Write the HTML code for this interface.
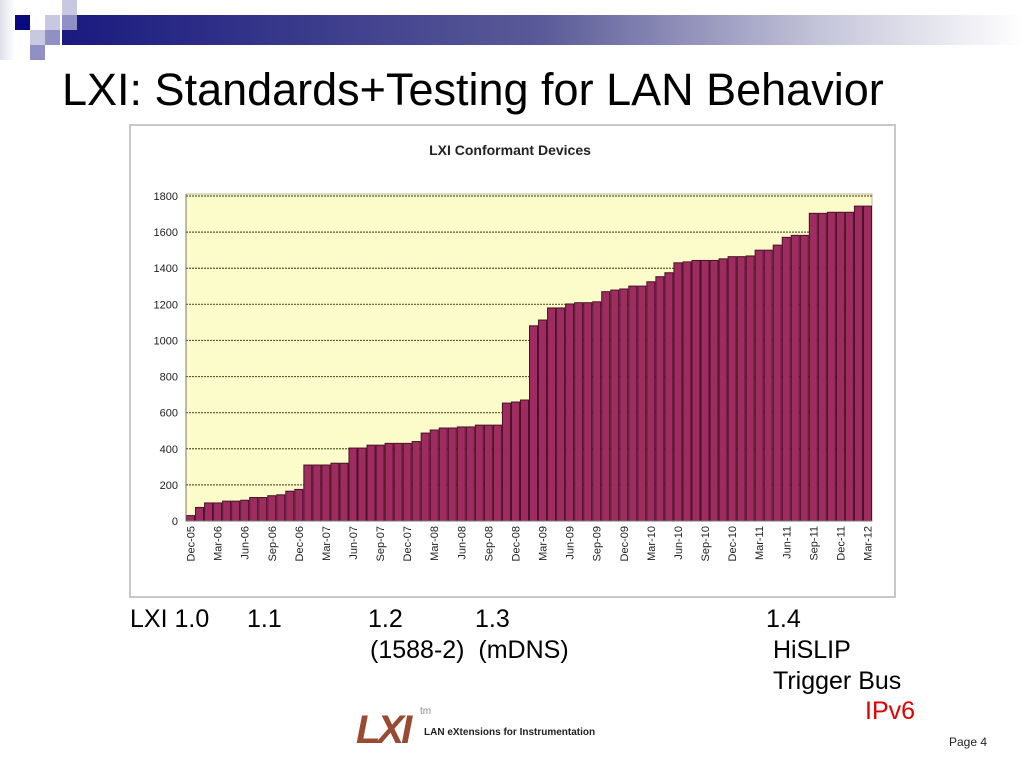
<!DOCTYPE html>
<html><head><meta charset="utf-8"><style>
body{margin:0;width:1024px;height:768px;background:#fff;position:relative;overflow:hidden;font-family:"Liberation Sans",sans-serif}
.sq{position:absolute;width:15px;height:15px}
.t{position:absolute;font-size:25px;color:#000;white-space:nowrap}
</style></head><body>
<div style="position:absolute;left:62px;top:15px;width:962px;height:30px;background:linear-gradient(90deg,#1a1a80,#5a5a98 50%,#c8c8dc 80%,#fff)"></div>
<div style="position:absolute;left:0;top:0;width:15px;height:60px;background:linear-gradient(90deg,#e0e0ec,#fff)"></div>
<div class="sq" style="left:15px;top:15px;background:#0a0a80"></div>
<div class="sq" style="left:45px;top:15px;background:#c8c8e0"></div>
<div class="sq" style="left:62px;top:0;background:#c8c8e0"></div>
<div class="sq" style="left:62px;top:15px;background:#9090c4"></div>
<div class="sq" style="left:30px;top:30px;background:#c8c8e0"></div>
<div class="sq" style="left:45px;top:30px;background:#9090c4"></div>
<div class="sq" style="left:30px;top:45px;background:#9090c4"></div>
<div style="position:absolute;left:62px;top:64px;font-size:45px;color:#000;white-space:nowrap">LXI: Standards+Testing for LAN Behavior</div>

<svg style="position:absolute;left:0;top:0" width="1024" height="768">
<rect x="130" y="125" width="765" height="472" fill="#fff" stroke="#c8c8c8" stroke-width="2"/>
<text x="510" y="155" font-size="14" font-weight="bold" text-anchor="middle" font-family="Liberation Sans" fill="#222">LXI Conformant Devices</text>
<rect x="186" y="194" width="686" height="327" fill="#fcfcca" stroke="#b8b8a0"/>
<g id="grid"></g><g id="bars"></g><g id="yt"></g><g id="xt"></g>
<line x1="186" y1="194" x2="186" y2="521" stroke="#777"/>
<line x1="186" y1="521" x2="872" y2="521" stroke="#777"/>
</svg>

<div class="t" style="left:130px;top:605px">LXI 1.0</div>
<div class="t" style="left:247px;top:605px">1.1</div>
<div class="t" style="left:368px;top:605px">1.2</div>
<div class="t" style="left:475px;top:605px">1.3</div>
<div class="t" style="left:766px;top:605px">1.4</div>
<div class="t" style="left:370px;top:636px">(1588-2)&nbsp; (mDNS)</div>
<div class="t" style="left:773px;top:636px">HiSLIP</div>
<div class="t" style="left:773px;top:667px">Trigger Bus</div>
<div class="t" style="left:865px;top:697px;color:#e00000">IPv6</div>
<div style="position:absolute;left:356px;top:708px;font:italic bold 40px 'Liberation Sans',sans-serif;color:#9a4a30;letter-spacing:-3px">LXI</div>
<div style="position:absolute;left:420px;top:706px;font-size:10px;color:#888">tm</div>
<div style="position:absolute;left:424px;top:727px;font-size:10px;font-weight:bold;color:#222">LAN eXtensions for Instrumentation</div>
<div style="position:absolute;left:949px;top:735px;font-size:12px;color:#222">Page 4</div>

<script>
const values=[30,75,100,100,110,110,115,130,130,140,145,165,175,310,310,310,320,320,404,404,420,420,430,430,430,440,487,504,515,515,521,521,531,531,531,653,659,670,1081,1113,1180,1180,1202,1209,1209,1214,1270,1279,1285,1301,1301,1325,1353,1375,1430,1435,1443,1443,1443,1452,1464,1464,1468,1500,1500,1528,1571,1582,1582,1704,1704,1710,1710,1710,1744,1744];
const months=["Jan","Feb","Mar","Apr","May","Jun","Jul","Aug","Sep","Oct","Nov","Dec"];
const yTicks=[0,200,400,600,800,1000,1200,1400,1600,1800];
const x0=186,x1=872,yBase=521,yTop=196,yMax=1800;
const NS="http://www.w3.org/2000/svg";
const n=values.length,bw=(x1-x0)/n;
const y=v=>yBase-(v/yMax)*(yBase-yTop);
const X=i=>x0+i*bw;
function mk(t,a,p){const e=document.createElementNS(NS,t);for(const k in a)e.setAttribute(k,a[k]);document.getElementById(p).appendChild(e);return e;}
yTicks.forEach(v=>{
 if(v>0){const g=mk("line",{x1:x0,x2:x1,y1:y(v),y2:y(v),stroke:"#5a5a30","stroke-width":1.2,"stroke-dasharray":"2,1"},"grid");
 
 }
 const t=mk("text",{x:x0-8,y:y(v)+4,"font-size":11,"text-anchor":"end","font-family":"Liberation Sans",fill:"#222"},"yt");
 t.textContent=v;
 
 
});
values.forEach((v,i)=>{
 const r=mk("rect",{x:X(i)+0.5,y:y(v),width:bw-1,height:yBase-y(v),fill:"#9e2c60",stroke:"#4a1028","stroke-width":1},"bars");
 
 
});
for(let i=0;i<n;i+=3){
 const mi=(11+i)%12,yr=5+Math.floor((11+i)/12);
 const lbl=months[mi]+"-"+String(yr).padStart(2,"0");
 const cx=X(i)+bw/2+4,cy=526;
 const t=mk("text",{x:cx,y:cy,"font-size":11,"text-anchor":"end","font-family":"Liberation Sans",fill:"#222",transform:`rotate(-90 ${cx} ${cy})`},"xt");
 t.textContent=lbl;
 
 
}
</script>
</body></html>
